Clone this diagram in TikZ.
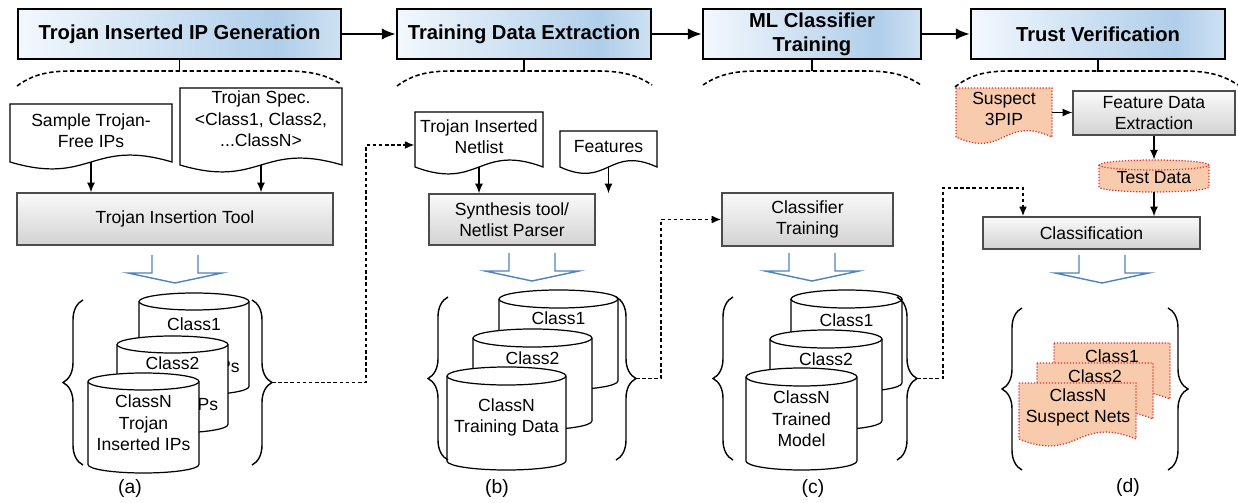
\documentclass[tikz,border=0pt]{standalone}
\usepackage{fontspec}
\setmainfont{Liberation Sans}
\usetikzlibrary{arrows.meta,decorations.pathreplacing,calc}
\definecolor{salmon}{RGB}{248,203,173}
\definecolor{redline}{RGB}{225,50,50}
\definecolor{harrowc}{RGB}{79,129,189}
\definecolor{tA}{RGB}{243,248,253}
\definecolor{tB}{RGB}{176,206,234}
\definecolor{tC}{RGB}{205,225,242}
\pgfdeclarehorizontalshading{titleshade}{100bp}{color(0bp)=(tA); color(25bp)=(tA); color(65bp)=(tB); color(75bp)=(tC); color(100bp)=(tC)}
\newcommand\mycyl[7]{%
  \pgfmathsetmacro\cylrx{(#3-#2)*0.01}%
  \pgfmathsetmacro\cylry{#6*0.02}%
  \pgfmathsetmacro\cylw{(#3-#2)*0.02}%
  \pgfmathsetmacro\cylh{(#5-#4)*0.02}%
  \path[#7] (#2,#4+#6) -- (#2,#5-#6) arc[start angle=180,end angle=360,x radius=\cylrx cm,y radius=\cylry cm] -- (#3,#4+#6) arc[start angle=0,end angle=180,x radius=\cylrx cm,y radius=\cylry cm] -- cycle;
  \path[#7,fill=none] (#2,#4+#6) arc[start angle=180,end angle=360,x radius=\cylrx cm,y radius=\cylry cm];
  \node[inner sep=0pt,minimum width=\cylw cm,minimum height=\cylh cm] (#1) at ({(#2+#3)/2},{(#4+#5)/2}) {};
}
\newcommand\mydoc[7]{%
  \pgfmathsetmacro\docw{(#3-#2)*0.02}%
  \pgfmathsetmacro\doch{(#5-#4)*0.02}%
  \path[#7] (#2,#4) -- (#3,#4) -- (#3,#5) .. controls ({(#2+#3)/2},#5-#6) and ({(#2+#3)/2},#5+#6) .. (#2,#5) -- cycle;
  \node[inner sep=0pt,minimum width=\docw cm,minimum height=\doch cm] (#1) at ({(#2+#3)/2},{(#4+#5)/2}) {};
}
\newcommand\hollowarr[2]{%
  \draw[harrowc,line width=0.8pt] (#1-23,#2) -- (#1-23,#2+18) -- (#1-47,#2+18) -- (#1,#2+28) -- (#1+47,#2+18) -- (#1+23,#2+18) -- (#1+23,#2);
}
\newcommand\topbr[4]{%
  \draw[brk] (#1,#3) .. controls (#1+15,75) and (#1+30,71) .. (#1+55,71) -- (#2-55,71) .. controls (#2-30,71) and (#2-15,75) .. (#2,#4);
}
\begin{document}
\begin{tikzpicture}[x=0.02cm,y=-0.02cm,
  body/.style={font=\fontsize{10}{12.2}\selectfont, align=center, inner sep=0pt},
  titlebox/.style={draw=black, line width=1.3pt, shade, shading=titleshade, font=\bfseries\fontsize{11.5}{13.5}\selectfont, align=center, inner sep=0pt, minimum height=1cm},
  graybox/.style={draw=black!70, line width=0.7pt, top color=gray!4, bottom color=gray!35, font=\fontsize{10}{12.2}\selectfont, align=center, inner sep=0pt},
  cylw/.style={draw=black, line width=0.7pt, fill=white},
  cyls/.style={draw=redline, densely dotted, line width=0.7pt, fill=salmon},
  arr/.style={line width=0.8pt, -{Latex[length=5.5pt,width=4.5pt]}},
  bigarr/.style={line width=1.3pt, -{Latex[length=8pt,width=6.5pt]}},
  dconn/.style={line width=1.1pt, dash pattern=on 2pt off 1.5pt, -{Latex[length=5.5pt,width=4.5pt]}},
  brk/.style={line width=0.9pt, dash pattern=on 2.5pt off 1.5pt},
  stemline/.style={line width=0.9pt},
  brc/.style={line width=0.8pt, decorate, decoration={brace, amplitude=0.4cm}},
  lbl/.style={font=\fontsize{11}{13}\selectfont, inner sep=0pt}]
\useasboundingbox (0,0) rectangle (1238,503);

% titles
\node[titlebox, minimum width=6.46cm] (t1) at (179.5,34) {Trojan Inserted IP Generation};
\node[titlebox, minimum width=5.08cm] (t2) at (524,34) {Training Data Extraction};
\node[titlebox, minimum width=4.36cm] (t3) at (812,34) {ML Classifier\\Training};
\node[titlebox, minimum width=5.08cm] (t4) at (1098,34) {Trust Verification};
\draw[bigarr] (t1) -- (t2);
\draw[bigarr] (t2) -- (t3);
\draw[bigarr] (t3) -- (t4);
\draw[stemline] (t1.south) -- (t1.south |- 0,71);
\draw[stemline] (t2.south) -- (t2.south |- 0,71);
\draw[stemline] (t3.south) -- (t3.south |- 0,71);
\draw[stemline] (t4.south) -- (t4.south |- 0,72);
\topbr{17}{341}{86}{84}
\topbr{397}{652}{86}{85}
\topbr{703}{921}{85}{85}
\topbr{955}{1238}{87}{85}

% panel (a)
\mydoc{d1}{10}{172}{104}{162}{24}{cylw}
\node[body] (d1t) at (91,131) {Sample Trojan-\\Free IPs};
\mydoc{d2}{180}{342}{88}{165}{24}{cylw}
\node[body] (d2t) at (261,119) {Trojan Spec.\\<Class1, Class2,\\...ClassN>};
\node[graybox, minimum width=6.32cm, minimum height=1.04cm] (tool) at (175,219) {Trojan Insertion Tool};
\draw[arr] (d1.south) -- (d1.south |- tool.north);
\draw[arr] (d2.south) -- (d2.south |- tool.north);
\hollowarr{175}{255}
\mycyl{a1}{139}{249}{293}{395}{8.5}{cylw}
\node[body] (a1t) at (194,324) {Class1};
\node[body, anchor=east] (a1p) at (240,367) {Ps};
\mycyl{a2}{117}{228}{336}{433}{8.5}{cylw}
\node[body] (a2t) at (172.5,363) {Class2};
\node[body, anchor=east] (a2p) at (218.5,405) {Ps};
\mycyl{an}{88}{199}{373}{473}{8.5}{cylw}
\node[body] (ant) at (an) {ClassN\\Trojan\\Inserted IPs};
\draw[brc] (83,465) -- (83,300);
\draw[brc] (252,300) -- (252,465);
\coordinate (bra) at (272,382.5);
\node[lbl] (la) at (130,488) {(a)};

% panel (b)
\mydoc{nl}{415}{543}{112}{167}{24}{cylw}
\node[body] (nlt) at (479,136.5) {Trojan Inserted\\Netlist};
\mydoc{ft}{560}{657}{131}{167}{22}{cylw}
\node[body] (ftt) at (608.5,147) {Features};
\node[graybox, minimum width=3.32cm, minimum height=1.02cm] (synth) at (512,219.5) {Synthesis tool/\\Netlist Parser};
\draw[arr] (nl.south) -- (nl.south |- synth.north);
\draw[arr] (ft.south) -- (ft.south |- synth.north);
\hollowarr{532}{253}
\mycyl{b1}{499}{618}{290}{390}{9}{cylw}
\node[body] (b1t) at (558.5,318) {Class1};
\mycyl{b2}{473}{592}{329}{430}{9}{cylw}
\node[body] (b2t) at (532.5,358) {Class2};
\mycyl{bn}{447}{566}{367}{470}{9}{cylw}
\node[body] (bnt) at (506.5,417.5) {ClassN\\Training Data};
\draw[brc] (448,460) -- (448,297);
\draw[brc] (616,297) -- (616,460);
\coordinate (brb) at (636,378.5);
\node[lbl] (lb) at (497,488) {(b)};

% panel (c)
\node[graybox, minimum width=3.42cm, minimum height=1.06cm] (ctrain) at (807.5,219.5) {Classifier\\Training};
\hollowarr{812}{253}
\mycyl{c1}{791}{902}{290}{392}{9}{cylw}
\node[body] (c1t) at (846.5,320) {Class1};
\mycyl{c2}{770}{882}{330}{430}{9}{cylw}
\node[body] (c2t) at (826,359) {Class2};
\mycyl{cn}{746}{857}{368}{470}{9}{cylw}
\node[body] (cnt) at (801.5,419) {ClassN\\Trained\\Model};
\draw[brc] (733,460) -- (733,297);
\draw[brc] (897,297) -- (897,460);
\coordinate (brcc) at (917,378.5);
\node[lbl] (lc) at (813,488) {(c)};

% panel (d)
\mydoc{sp}{956}{1052}{88}{137}{22}{cyls}
\node[body] (spt) at (1004,109) {Suspect\\3PIP};
\node[graybox, minimum width=3.24cm, minimum height=0.88cm] (fde) at (1154,113) {Feature Data\\Extraction};
\draw[arr] (sp.east) -- (sp.east -| fde.west);
\mycyl{td}{1099}{1209}{160}{192}{5}{cyls}
\node[body] (tdt) at (1154,177.5) {Test Data};
\draw[arr] (fde.south) -- (td.north);
\node[graybox, minimum width=4.34cm, minimum height=0.64cm] (cls) at (1091.5,233) {Classification};
\draw[arr] (td.south) -- (td.south |- cls.north);
\hollowarr{1102}{255}
\mydoc{e1}{1054}{1170}{343}{399}{24}{cyls}
\node[body] (e1t) at (1112,356) {Class1};
\mydoc{e2}{1037}{1153}{363}{419}{24}{cyls}
\node[body] (e2t) at (1095,376) {Class2};
\mydoc{en}{1019}{1136}{383}{439}{24}{cyls}
\node[body] (ent) at (1078,407.5) {ClassN\\Suspect Nets};
\draw[brc] (1022,470) -- (1022,308);
\draw[brc] (1168,308) -- (1168,470);
\node[lbl] (ld) at (1128,487) {(d)};

% dashed connectors
\draw[dconn] (bra) -- (366,382.5) -- (366,145) -- (nl.west |- 0,145);
\draw[dconn] (brb) -- (661,378.5) |- (ctrain.west);
\draw[dconn] (brcc) -- (943,378.5) |- (1023,188) -- (cls.north -| 1023,0);
\end{tikzpicture}
\end{document}
